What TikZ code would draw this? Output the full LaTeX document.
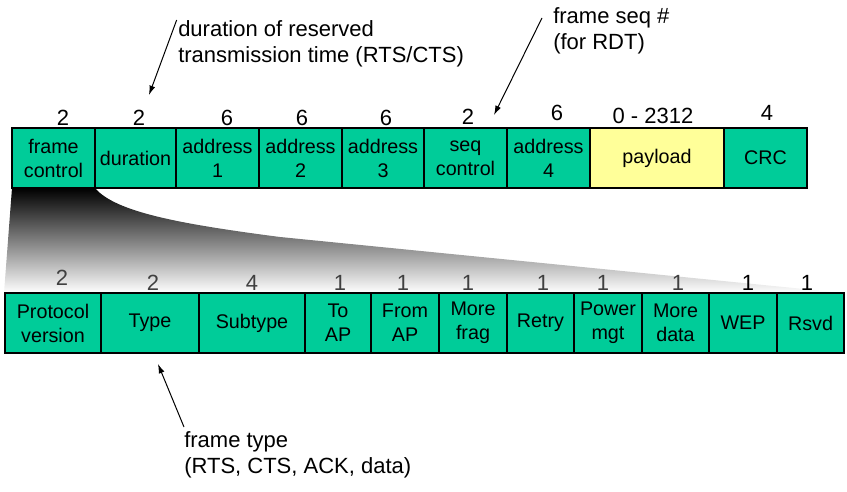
\documentclass[tikz,border=0pt]{standalone}
\usepackage{fontspec}
\setmainfont{Liberation Sans}
\usetikzlibrary{arrows.meta}
\definecolor{fieldgreen}{HTML}{00CC99}
\definecolor{payloadyellow}{HTML}{FFFF99}
\definecolor{bitgray}{HTML}{404040}
\begin{document}
\begin{tikzpicture}[x=0.75pt,y=-0.75pt,
  field/.style={draw=black, line width=0.9pt, fill=fieldgreen, inner sep=0pt,
                minimum height=45pt, align=center,
                font=\fontsize{14.8}{18}\selectfont},
  size/.style={inner sep=0pt, font=\fontsize{16.5}{19}\selectfont},
  bits/.style={size, text=bitgray},
  note/.style={inner sep=0pt, anchor=north west, align=left,
               font=\fontsize{16.5}{19.5}\selectfont},
  pointer/.style={line width=0.75pt, -{Latex[length=7pt,width=4.5pt]}}]
\useasboundingbox (0,0) rectangle (847,492);

% fan-out from the frame control field down to its sub-fields
\shade[top color=black, middle color=black!50, bottom color=white]
  (12,188) -- (95,188) .. controls (115,212) and (180,224) .. (280,237)
  -- (844,293) -- (4,293) -- cycle;

% 802.11 frame fields
\node[field, minimum width=62.25pt] (fc)  at (53.5,158)  {frame\\control};
\node[field, minimum width=60.75pt] (dur) at (135.5,158) {duration};
\node[field, minimum width=62.25pt] (a1)  at (217.5,158) {address\\1};
\node[field, minimum width=62.25pt] (a2)  at (300.5,158) {address\\2};
\node[field, minimum width=61.5pt]  (a3)  at (383,158)   {address\\3};
\node[field, minimum width=62.25pt] (seq) at (465.5,158) {seq\\control};
\node[field, minimum width=62.25pt] (a4)  at (548.5,158) {address\\4};
\node[field, minimum width=100.5pt, fill=payloadyellow] (pl) at (657,158) {payload};
\node[field, minimum width=62.25pt] (crc) at (765.5,158) {CRC};

% field lengths in bytes
\node[size] (s1) at (63,118) {2};
\node[size] (s2) at (139,118) {2};
\node[size] (s3) at (227,118) {6};
\node[size] (s4) at (302,118) {6};
\node[size] (s5) at (386,118) {6};
\node[size] (s6) at (468,117) {2};
\node[size] (s7) at (557,113) {6};
\node[size] (s8) at (653,116) {0 - 2312};
\node[size] (s9) at (767,113) {4};

% frame control sub-fields
\node[field, minimum width=72pt]    (pv)     at (53,323)    {Protocol\\version};
\node[field, minimum width=73.5pt]  (ty)     at (150,323)   {Type};
\node[field, minimum width=79.5pt]  (st)     at (252,323)   {Subtype};
\node[field, minimum width=49.5pt]  (toap)   at (338,323)   {To\\AP};
\node[field, minimum width=51pt]    (fromap) at (405,323)   {From\\AP};
\node[field, minimum width=51pt]    (mf)     at (473,323)   {More\\frag};
\node[field, minimum width=50.25pt] (rt)     at (540.5,323) {Retry};
\node[field, minimum width=51pt]    (pm)     at (608,323)   {Power\\mgt};
\node[field, minimum width=50.25pt] (md)     at (675.5,323) {More\\data};
\node[field, minimum width=51pt]    (wep)    at (743,323)   {WEP};
\node[field, minimum width=50.25pt] (rsvd)   at (810.5,323) {Rsvd};

% sub-field lengths in bits
\node[bits] (b1) at (62,278) {2};
\node[bits] (b2) at (153,283) {2};
\node[bits] (b3) at (252,283) {4};
\node[bits] (b4) at (340,283) {1};
\node[bits] (b5) at (403,283) {1};
\node[bits] (b6) at (468,283) {1};
\node[bits] (b7) at (543,283) {1};
\node[bits] (b8) at (603,283) {1};
\node[bits] (b9) at (678,283) {1};
\node[size] (b10) at (748,283) {1};
\node[size] (b11) at (807,283) {1};

% annotations
\node[note] (durnote) at (178,20) {duration of reserved\\transmission time (RTS/CTS)};
\node[note] (seqnote) at (553,7) {frame seq \#\\(for RDT)};
\node[note] (typenote) at (184,431) {frame type\\(RTS, CTS, ACK, data)};

\coordinate (durtip) at (149,95);
\coordinate (seqtail) at (542,18);
\coordinate (seqtip) at (494,115);
\coordinate (typetip) at (158,364);

\draw[pointer] ([xshift=-1pt]durnote.north west) -- (durtip);
\draw[pointer] (seqtail) -- (seqtip);
\draw[pointer] ([yshift=3pt]typenote.north west) -- (typetip);
\end{tikzpicture}
\end{document}
